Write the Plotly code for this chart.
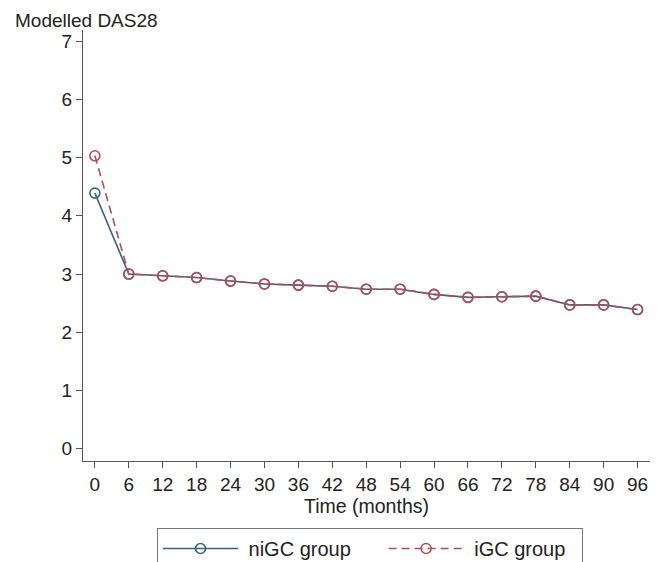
import plotly.graph_objects as go

months = [0, 6, 12, 18, 24, 30, 36, 42, 48, 54, 60, 66, 72, 78, 84, 90, 96]
nigc = [4.39, 3.00, 2.97, 2.94, 2.88, 2.83, 2.81, 2.79, 2.74, 2.74, 2.65, 2.60, 2.61, 2.62, 2.47, 2.47, 2.39]
igc = [5.03, 3.00, 2.97, 2.94, 2.88, 2.83, 2.81, 2.79, 2.74, 2.74, 2.65, 2.60, 2.61, 2.62, 2.47, 2.47, 2.39]
y_ticks = [0, 1, 2, 3, 4, 5, 6, 7]

BLUE = "#3b6184"
RED = "#b14f58"
FONT = "Liberation Sans, Arial, sans-serif"
NB = "\u00a0"
# page body has an 8px margin, so the figure is drawn 8px smaller and offset
OFF = 8
W, H = 662 - OFF, 562 - OFF

fig = go.Figure()
fig.add_trace(go.Scatter(
    x=months, y=nigc, name=NB + "niGC group" + NB * 5, mode="lines+markers",
    line=dict(color=BLUE, width=1.6),
    marker=dict(symbol="circle-open", size=10, color=BLUE, line=dict(width=1.6)),
))
fig.add_trace(go.Scatter(
    x=months, y=igc, name=NB + "iGC group" + NB * 2, mode="lines+markers",
    line=dict(color=RED, width=1.6, dash="8px,5px"),
    marker=dict(symbol="circle-open", size=10, color=RED, line=dict(width=1.6)),
))

# plot area in page pixels: x 83..650, y 30..461
L, R, T, B = 83 - OFF, 662 - 650, 30 - OFF, 562 - 461
fig.update_layout(
    width=W, height=H,
    margin=dict(l=L, r=R, t=T, b=B, pad=0),
    paper_bgcolor="white", plot_bgcolor="white",
    font=dict(family=FONT, size=19, color="#222"),
    showlegend=True,
    legend=dict(
        orientation="h", xref="container", yref="container",
        x=(157 - OFF) / W, xanchor="left",
        y=1 - (528 - OFF) / H, yanchor="top",
        bordercolor="#777", borderwidth=1, bgcolor="white",
        itemwidth=75,
        font=dict(size=20, family=FONT, color="#222"),
        traceorder="normal",
    ),
    xaxis=dict(
        automargin=False,
        range=[-2.1, 98.2], tickvals=months, ticktext=[str(m) for m in months],
        showgrid=False, zeroline=False, showline=True, linecolor="#555", linewidth=1.3,
        ticks="outside", ticklen=6, tickcolor="#555", tickwidth=1.3,
        ticklabelstandoff=0,
        tickfont=dict(size=19, family=FONT, color="#222"),
        title=dict(text="Time (months)", font=dict(size=19.5, family=FONT, color="#222"), standoff=3),
    ),
    yaxis=dict(
        automargin=False,
        range=[-0.21, 7.19], tickvals=y_ticks, ticktext=[str(v) for v in y_ticks],
        showgrid=False, zeroline=False, showline=True, linecolor="#555", linewidth=1.3,
        ticks="outside", ticklen=6, tickcolor="#555", tickwidth=1.3,
        tickfont=dict(size=19, family=FONT, color="#222"),
    ),
)
fig.add_annotation(
    text="Modelled DAS28", xref="paper", yref="paper",
    x=(13 - 83) / (650 - 83), xanchor="left",
    y=1 + (30 - 21) / (461 - 30), yanchor="middle",
    showarrow=False, font=dict(size=19, family=FONT, color="#222"),
)

fig.write_html("out.html")
